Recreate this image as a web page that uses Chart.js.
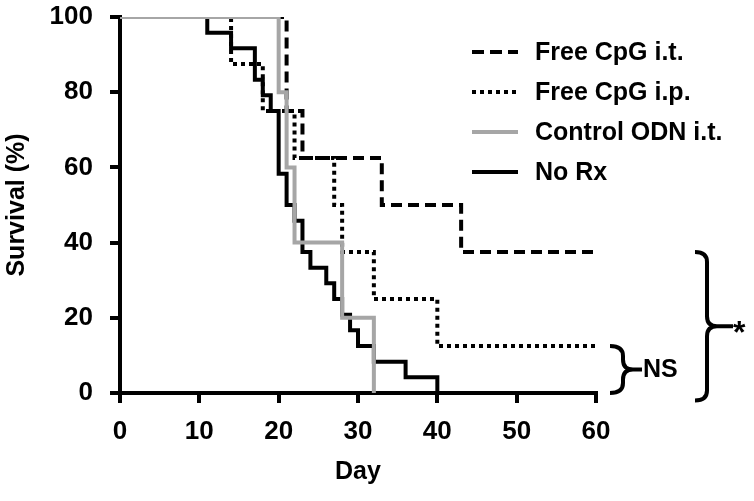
<!DOCTYPE html>
<html>
<head>
<meta charset="utf-8">
<script src="https://cdn.jsdelivr.net/npm/chart.js@4"></script>
<style>
  body { margin: 0; background: #fff; }
</style>
</head>
<body>
<canvas id="survivalChart" width="754" height="501"></canvas>
<script>
// Kaplan-Meier steps (day, % surviving)
const itDays = [0, 21, 23, 33, 43, 60];
const itSurv = [100, 75, 62.5, 50, 37.5, 37.5];
const ipDays = [0, 14, 18, 22, 27, 28, 32, 40, 60];
const ipSurv = [100, 87.5, 75, 62.5, 50, 37.5, 25, 12.5, 12.5];
const odnDays = [0, 20, 21, 22, 28, 32];
const odnSurv = [100, 80, 60, 40, 20, 0];
const noRxDays = [0, 11, 14, 17, 18, 19, 20, 21, 22, 23, 24, 26, 27, 28, 29, 30, 32, 36, 40];
const noRxSurv = [100, 95.8, 91.7, 83.3, 79.2, 75, 58.3, 50, 45.8, 37.5, 33.3, 29.2, 25, 20.8, 16.7, 12.5, 8.3, 4.2, 0];

const seriesLabels = ["Free CpG i.t.", "Free CpG i.p.", "Control ODN i.t.", "No Rx"];
const xTicks = [0, 10, 20, 30, 40, 50, 60];
const yTicks = [0, 20, 40, 60, 80, 100];

const FONT = "'Liberation Sans', Arial, sans-serif";

function toPoints(days, surv) {
    return days.map((d, i) => ({ x: d, y: surv[i] }));
}

// legend drawn inside the plot, top right
const insideLegend = {
    id: 'insideLegend',
    afterDatasetsDraw(chart) {
        const ctx = chart.ctx;
        const area = chart.chartArea;
        const x0 = area.left + 352;
        const x1 = area.left + 398;
        const tx = area.left + 415;
        ctx.save();
        ctx.font = "bold 25px " + FONT;
        ctx.textBaseline = 'middle';
        ctx.fillStyle = '#000';
        seriesLabels.forEach((label, i) => {
            const ds = chart.data.datasets[i];
            const y = area.top + 35 + i * 40;
            ctx.beginPath();
            ctx.lineWidth = 4;
            ctx.strokeStyle = ds.borderColor;
            ctx.setLineDash(ds.legendDash || []);
            ctx.moveTo(x0, y);
            ctx.lineTo(x1, y);
            ctx.stroke();
            ctx.fillText(label, tx, y + 1);
        });
        ctx.restore();
    }
};

// curly braces with significance marks on the right
function brace(ctx, xHook, xMid, xTip, yTop, yBot) {
    const r = 10;
    const yMid = (yTop + yBot) / 2;
    ctx.beginPath();
    ctx.moveTo(xHook, yTop);
    ctx.quadraticCurveTo(xMid, yTop, xMid, yTop + r);
    ctx.lineTo(xMid, yMid - r);
    ctx.quadraticCurveTo(xMid, yMid, xMid + r, yMid);
    ctx.lineTo(xTip, yMid);
    ctx.moveTo(xMid + r, yMid);
    ctx.quadraticCurveTo(xMid, yMid, xMid, yMid + r);
    ctx.lineTo(xMid, yBot - r);
    ctx.quadraticCurveTo(xMid, yBot, xHook, yBot);
    ctx.stroke();
    return yMid;
}

const braces = {
    id: 'braces',
    afterDraw(chart) {
        const ctx = chart.ctx;
        const y = chart.scales.y;
        const right = chart.chartArea.right;
        ctx.save();
        ctx.lineWidth = 4;
        ctx.strokeStyle = '#000';
        ctx.fillStyle = '#000';
        ctx.setLineDash([]);

        const smallMid = brace(ctx, right + 14, right + 27, right + 46, y.getPixelForValue(12.5), y.getPixelForValue(0));
        ctx.font = "bold 25px " + FONT;
        ctx.textBaseline = 'middle';
        ctx.fillText("NS", right + 47, smallMid + 1);

        const bigMid = brace(ctx, right + 99, right + 111, right + 137, y.getPixelForValue(37.5), y.getPixelForValue(-2));
        ctx.font = "bold 32px " + FONT;
        ctx.textBaseline = 'alphabetic';
        ctx.fillText("*", right + 137, bigMid + 17);
        ctx.restore();
    }
};

new Chart(document.getElementById('survivalChart'), {
    type: 'line',
    data: {
        datasets: [
            {
                label: seriesLabels[0],
                data: toPoints(itDays, itSurv),
                borderColor: '#000',
                borderDash: [11, 6],
                legendDash: [12, 6],
                order: 1
            },
            {
                label: seriesLabels[1],
                data: toPoints(ipDays, ipSurv),
                borderColor: '#000',
                borderDash: [4, 4],
                legendDash: [4, 4],
                order: 2
            },
            {
                label: seriesLabels[2],
                data: toPoints(odnDays, odnSurv),
                borderColor: '#a6a6a6',
                order: 0
            },
            {
                label: seriesLabels[3],
                data: toPoints(noRxDays, noRxSurv),
                borderColor: '#000',
                order: 3
            }
        ]
    },
    options: {
        responsive: false,
        animation: false,
        devicePixelRatio: 1,
        layout: { padding: { top: 17, right: 158, left: 0, bottom: 0 } },
        elements: {
            line: { stepped: 'before', borderWidth: 4, fill: false, tension: 0 },
            point: { radius: 0, hoverRadius: 0 }
        },
        plugins: {
            legend: { display: false },
            tooltip: { enabled: false }
        },
        scales: {
            x: {
                type: 'linear',
                min: 0,
                max: 60,
                afterBuildTicks: (scale) => { scale.ticks = xTicks.map(v => ({ value: v })); },
                afterFit: (scale) => { scale.height = 108; },
                grid: { drawOnChartArea: false, drawTicks: true, tickLength: 10, lineWidth: 4, color: '#000' },
                border: { display: true, width: 4, color: '#000' },
                ticks: { color: '#000', padding: 13, font: { family: FONT, size: 26, weight: 'bold' } },
                title: {
                    display: true,
                    text: 'Day',
                    color: '#000',
                    padding: { top: 0, bottom: 14 },
                    font: { family: FONT, size: 25, weight: 'bold' }
                }
            },
            y: {
                min: 0,
                max: 100,
                afterBuildTicks: (scale) => { scale.ticks = yTicks.map(v => ({ value: v })); },
                afterFit: (scale) => {
                    scale.width = 120;
                    scale.paddingTop = 0;
                    scale.paddingBottom = 0;
                },
                grid: { drawOnChartArea: false, drawTicks: true, tickLength: 10, lineWidth: 4, color: '#000' },
                border: { display: true, width: 4, color: '#000' },
                ticks: { color: '#000', padding: 17, font: { family: FONT, size: 26, weight: 'bold' } },
                title: {
                    display: true,
                    text: 'Survival (%)',
                    color: '#000',
                    padding: { top: 2, bottom: 0 },
                    font: { family: FONT, size: 25, weight: 'bold' }
                }
            }
        }
    },
    plugins: [insideLegend, braces]
});
</script>
</body>
</html>
